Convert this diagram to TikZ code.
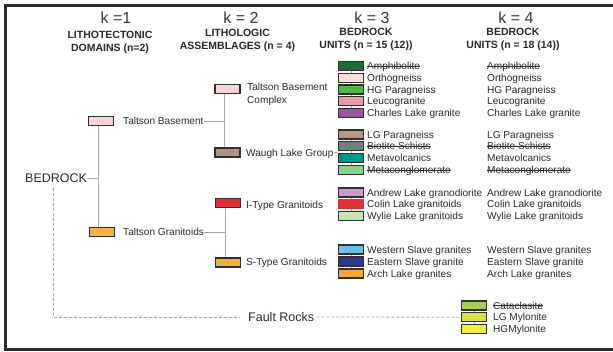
\documentclass[tikz,border=0pt]{standalone}
\usepackage{fontspec}
\setmainfont{Liberation Sans}
\usetikzlibrary{backgrounds,calc}
\newlength\stkw
\newcommand\stkx[1]{\settowidth{\stkw}{#1}\rlap{\rule[0.3em]{\stkw}{0.55pt}}#1}
\definecolor{boxline}{HTML}{303030}
\definecolor{connc}{HTML}{A8A8A8}
\definecolor{txt}{HTML}{2A2A2A}
\definecolor{ttl}{HTML}{3A3A3A}
\definecolor{framec}{HTML}{2B2B2B}
\definecolor{tbpink}{HTML}{F7D5D6}
\definecolor{granorange}{HTML}{F4B043}
\definecolor{waugh}{HTML}{B39282}
\definecolor{itred}{HTML}{E03236}
\definecolor{amph}{HTML}{1E6B36}
\definecolor{ortho}{HTML}{FBDDDF}
\definecolor{hgpara}{HTML}{4DB748}
\definecolor{leuco}{HTML}{EE97AB}
\definecolor{charles}{HTML}{9E559E}
\definecolor{lgpara}{HTML}{B89482}
\definecolor{biotite}{HTML}{767B80}
\definecolor{metav}{HTML}{00978A}
\definecolor{metac}{HTML}{8ED08C}
\definecolor{andrew}{HTML}{CE98C8}
\definecolor{colin}{HTML}{E23236}
\definecolor{wylie}{HTML}{C7E4B1}
\definecolor{western}{HTML}{6CC0E8}
\definecolor{eastern}{HTML}{2C3B8E}
\definecolor{arch}{HTML}{F4A83B}
\definecolor{catac}{HTML}{A6CF5A}
\definecolor{lgmyl}{HTML}{D7E23F}
\definecolor{hgmyl}{HTML}{F2EE3A}
\begin{document}
\begin{tikzpicture}[x=1pt,y=-1pt,
  box/.style={draw=boxline, line width=1.1pt, minimum width=25pt, minimum height=9pt, inner sep=0pt, fill=#1},
  nbox/.style={minimum width=26pt, minimum height=10pt, inner sep=0pt, fill=#1},
  lbl/.style={anchor=base west, inner sep=0pt, font=\fontsize{10.1}{12}\selectfont, text=txt},
  big/.style={anchor=west, inner sep=0pt, font=\fontsize{12.5}{14}\selectfont, text=txt},
  head/.style={font=\fontsize{10.5}{13}\selectfont\bfseries, text=txt, align=center, inner sep=0pt},
  ktitle/.style={font=\fontsize{16}{18}\selectfont, text=ttl, inner sep=0pt},
  conn/.style={draw=connc, line width=0.8pt},
  dconn/.style={draw=connc, line width=0.8pt, dash pattern=on 3pt off 2pt}]
\useasboundingbox (0,0) rectangle (613,351);
\draw[framec, line width=2.5pt] (613,5.5) -- (5.5,5.5) -- (5.5,349.5) -- (613,349.5);

% titles
\node[ktitle] (k1) at (116,17.5) {k =1};
\node[ktitle] (k2) at (241,17.5) {k = 2};
\node[ktitle] (k3) at (372,17.5) {k = 3};
\node[ktitle] (k4) at (516,17.5) {k = 4};
\node[head] (h1) at (110,42.5) {LITHOTECTONIC\\DOMAINS (n=2)};
\node[head] (h2) at (237.5,40.5) {LITHOLOGIC\\ASSEMBLAGES (n = 4)};
\node[head] (h3) at (366,39.5) {BEDROCK\\UNITS (n = 15 (12))};
\node[head] (h4) at (513,39.5) {BEDROCK\\UNITS (n = 18 (14))};

% k=1
\node[big] (bed) at (25,178) {BEDROCK};
\node[box=tbpink] (tbb) at (101,121) {};
\node[lbl] (tbt) at (123,124.5) {Taltson Basement};
\node[box=granorange] (tgb) at (102,232) {};
\node[lbl] (tgt) at (123,235) {Taltson Granitoids};
\coordinate (s1) at (98,0);
\coordinate (s2) at (224,0);
\coordinate (s2b) at (225,0);
\coordinate (d1) at (53,0);

% k=2
\node[box=tbpink] (tbcb) at (227.5,89) {};
\node[lbl, align=left, anchor=north west] (tbct) at (247,83) {Taltson Basement\\[0.5pt]Complex};
\node[box=waugh] (wlb) at (227.5,152.5) {};
\node[lbl] (wlt) at (246,156.5) {Waugh Lake Group};
\node[box=itred] (itb) at (228,203) {};
\node[lbl] (itt) at (246,208) {I-Type Granitoids};
\node[box=granorange] (stb) at (228,262.5) {};
\node[lbl] (stt) at (246,265.5) {S-Type Granitoids};

% k=3 group 1
\node[box=amph] (amb) at (351,66) {};
\node[lbl] (am3) at (367,69.5) {\stkx{Amphibolite}};
\node[lbl] (am4) at (487,69.5) {\stkx{Amphibolite}};
\node[box=ortho] (orb) at (351,77.75) {};
\node[lbl] (or3) at (367,81.25) {Orthogneiss};
\node[lbl] (or4) at (487,81.25) {Orthogneiss};
\node[box=hgpara] (hgb) at (351,89.5) {};
\node[lbl] (hg3) at (367,93) {HG Paragneiss};
\node[lbl] (hg4) at (487,93) {HG Paragneiss};
\node[box=leuco] (leb) at (351,101.25) {};
\node[lbl] (le3) at (367,104.75) {Leucogranite};
\node[lbl] (le4) at (487,104.75) {Leucogranite};
\node[box=charles] (chb) at (351,113) {};
\node[lbl] (ch3) at (367,116.5) {Charles Lake granite};
\node[lbl] (ch4) at (487,116.5) {Charles Lake granite};

% group 2
\node[box=lgpara] (lgb) at (351,134.5) {};
\node[lbl] (lg3) at (367,138) {LG Paragneiss};
\node[lbl] (lg4) at (487,138) {LG Paragneiss};
\node[box=biotite] (bsb) at (351,146.3) {};
\node[lbl] (bs3) at (367,149.8) {\stkx{Biotite Schists}};
\node[lbl] (bs4) at (487,149.8) {\stkx{Biotite Schists}};
\node[box=metav] (mvb) at (351,158.1) {};
\node[lbl] (mv3) at (367,161.6) {Metavolcanics};
\node[lbl] (mv4) at (487,161.6) {Metavolcanics};
\node[box=metac] (mcb) at (351,170) {};
\node[lbl] (mc3) at (367,173.5) {\stkx{Metaconglomerate}};
\node[lbl] (mc4) at (487,173.5) {\stkx{Metaconglomerate}};

% group 3
\node[box=andrew] (alb) at (351,192.5) {};
\node[lbl] (al3) at (367,196) {Andrew Lake granodiorite};
\node[lbl] (al4) at (487,196) {Andrew Lake granodiorite};
\node[nbox=colin] (clb) at (351,204.3) {};
\node[lbl] (cl3) at (367,207.8) {Colin Lake granitoids};
\node[lbl] (cl4) at (487,207.8) {Colin Lake granitoids};
\node[box=wylie] (wyb) at (351,216.1) {};
\node[lbl] (wy3) at (367,219.6) {Wylie Lake granitoids};
\node[lbl] (wy4) at (487,219.6) {Wylie Lake granitoids};

% group 4
\node[box=western] (wsb) at (351,249.5) {};
\node[lbl] (ws3) at (367,253) {Western Slave granites};
\node[lbl] (ws4) at (487,253) {Western Slave granites};
\node[box=eastern] (esb) at (351,261.5) {};
\node[lbl] (es3) at (367,265) {Eastern Slave granite};
\node[lbl] (es4) at (487,265) {Eastern Slave granite};
\node[box=arch] (arb) at (351,273.5) {};
\node[lbl] (ar3) at (367,277) {Arch Lake granites};
\node[lbl] (ar4) at (487,277) {Arch Lake granites};

% fault rocks
\node[big] (fr) at (248,317) {Fault Rocks};
\node[box=catac] (cab) at (474,305.5) {};
\node[lbl] (cat) at (493,309) {\stkx{Cataclasite}};
\node[box=lgmyl] (lmb) at (474,317.2) {};
\node[lbl] (lmt) at (493,320.7) {LG Mylonite};
\node[box=hgmyl] (hmb) at (474,329) {};
\node[lbl] (hmt) at (493,332.5) {HGMylonite};

% connectors
\begin{scope}[on background layer]
\fill[white] (0,0) rectangle (613,351);
\draw[conn] (tbb.south -| s1) -- (tgb.north -| s1);
\draw[conn] (bed.east) -- (bed -| s1);
\draw[conn] (tbt.east |- tbb) -- (tbb -| s2);
\draw[conn] (tgt.east |- tgb) -- (tgb -| s2b);
\draw[conn] (tbcb.south -| s2) -- (wlb.north -| s2);
\draw[conn] (itb.south -| s2b) -- (stb.north -| s2b);
\draw[conn] (wlt.east |- wlb) -- (wlb -| mvb.west);
\draw[conn, line width=0.6pt] (amb.center) -- (chb.center);
\draw[conn, line width=0.6pt] (lgb.center) -- (mcb.center);
\draw[conn, line width=0.6pt] (alb.center) -- (wyb.center);
\draw[conn, line width=0.6pt] (wsb.center) -- (arb.center);
\draw[conn, line width=0.6pt] (cab.center) -- (hmb.center);
\draw[dconn] ($(bed.south -| d1)+(0,5)$) |- ($(fr.west)+(-8,0)$);
\draw[dconn] ($(fr.east)+(2,0)$) -- (lmb.west);
\end{scope}
\end{tikzpicture}
\end{document}
